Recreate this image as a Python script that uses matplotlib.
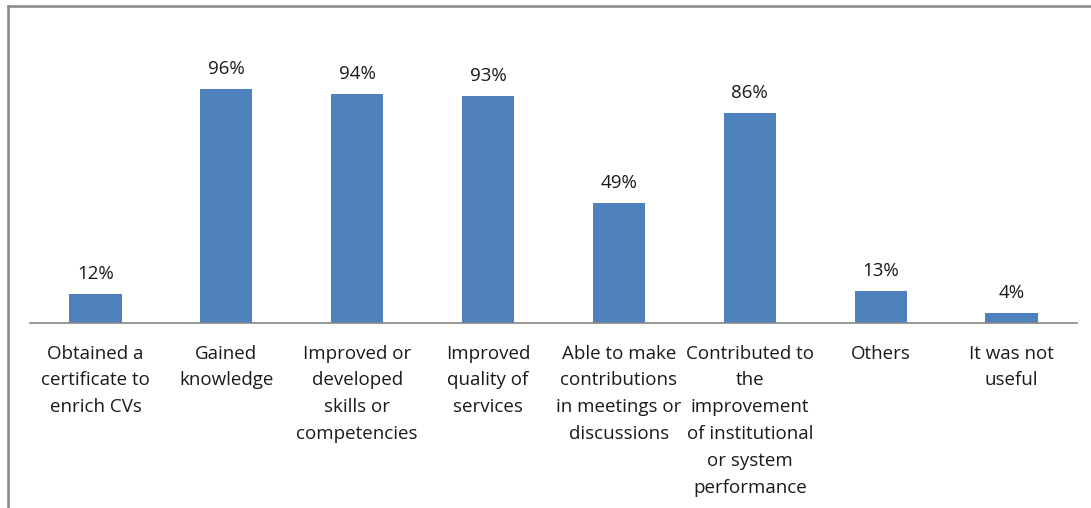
import matplotlib
matplotlib.use("Agg")
import matplotlib.pyplot as plt
from matplotlib.lines import Line2D

categories = [
    "Obtained a\ncertificate to\nenrich CVs",
    "Gained\nknowledge",
    "Improved or\ndeveloped\nskills or\ncompetencies",
    "Improved\nquality of\nservices",
    "Able to make\ncontributions\nin meetings or\ndiscussions",
    "Contributed to\nthe\nimprovement\nof institutional\nor system\nperformance",
    "Others",
    "It was not\nuseful",
]
values = [12, 96, 94, 93, 49, 86, 13, 4]
value_labels = ["12%", "96%", "94%", "93%", "49%", "86%", "13%", "4%"]

plt.rcParams['font.family'] = ['Open Sans', 'DejaVu Sans']

W, H = 1091, 508
fig = plt.figure(figsize=(W / 100, H / 100), dpi=100)
fig.patch.set_facecolor("white")

left, right = 30, 1077
base, top = 323, 79
ax = fig.add_axes([left / W, (H - base) / H, (right - left) / W, (base - top) / H])

x = list(range(len(values)))
bars = ax.bar(x, values, width=0.4, color="#4F81BD", zorder=2)
ax.set_xlim(-0.5, len(values) - 0.5)
ax.set_ylim(0, 100)

for xi, v, lab in zip(x, values, value_labels):
    ax.annotate(lab, (xi, v), xytext=(0, 8), textcoords="offset points",
                ha="center", va="bottom", fontsize=13.5, color="#1a1a1a",
                annotation_clip=False)

ax.set_xticks(x)
ax.set_xticklabels(categories, fontsize=13.5, color="#1a1a1a", linespacing=1.63, va="top")
ax.tick_params(axis="x", length=0, pad=15.5)
ax.set_yticks([])
for s in ["left", "right", "top"]:
    ax.spines[s].set_visible(False)
ax.spines["bottom"].set_color("#868686")
ax.spines["bottom"].set_linewidth(1.2)

# outer chart frame (left and top edges visible)
fig.add_artist(Line2D([7.5 / W, 7.5 / W], [0, 1 - 6 / H], transform=fig.transFigure,
                      color="#868686", linewidth=1.8))
fig.add_artist(Line2D([7.5 / W, 1], [1 - 6 / H, 1 - 6 / H], transform=fig.transFigure,
                      color="#868686", linewidth=1.8))

fig.savefig("out.png", dpi=100, facecolor="white")
